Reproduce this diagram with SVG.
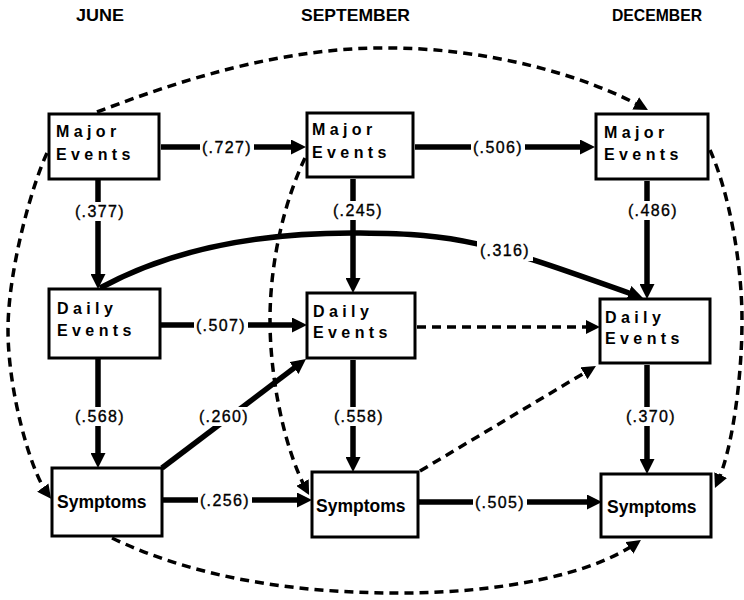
<svg xmlns="http://www.w3.org/2000/svg" width="744" height="600" viewBox="0 0 744 600">
<style>
.box{fill:#fff;stroke:#000;stroke-width:3}
.nt{font-family:"Liberation Sans",Arial,sans-serif;font-weight:bold;font-size:16px;letter-spacing:4.4px;fill:#000}
.st{font-family:"Liberation Sans",Arial,sans-serif;font-weight:bold;font-size:17.5px;fill:#000}
.title{font-family:"Liberation Sans",Arial,sans-serif;font-weight:bold;font-size:16.5px;fill:#000}
.solid{fill:none;stroke:#000;stroke-width:5.5;marker-end:url(#ah)}
.dash{fill:none;stroke:#000;stroke-width:3.5;stroke-dasharray:9 6;marker-end:url(#ahd)}
.lbl{font-family:"Liberation Sans",Arial,sans-serif;font-size:16px;letter-spacing:1.4px;fill:#000;stroke:#000;stroke-width:0.35;text-anchor:middle}
.bg{fill:#fff}
</style>
<defs>
<marker id="ah" viewBox="0 0 15 15" markerWidth="15" markerHeight="15" refX="9" refY="7.5" orient="auto" markerUnits="userSpaceOnUse"><path d="M0,0 L15,7.5 L0,15 z" fill="#000"/></marker>
<marker id="ahd" viewBox="0 0 14 14" markerWidth="14" markerHeight="14" refX="8" refY="7" orient="auto" markerUnits="userSpaceOnUse"><path d="M0,0 L14,7 L0,14 z" fill="#000"/></marker>
</defs>
<rect width="744" height="600" fill="#fff"/>
<g id="titles">
<text class="title" x="76" y="21" textLength="48" lengthAdjust="spacingAndGlyphs">JUNE</text>
<text class="title" x="301" y="21" textLength="109" lengthAdjust="spacingAndGlyphs">SEPTEMBER</text>
<text class="title" x="612" y="21" textLength="90" lengthAdjust="spacingAndGlyphs">DECEMBER</text>
</g>
<g id="connectors">
<path class="solid" d="M161 147 L300 147"/>
<path class="solid" d="M415 147 L589 147"/>
<path class="solid" d="M98 180 L98 283"/>
<path class="solid" d="M353 179 L353 287"/>
<path class="solid" d="M647 181 L647 293"/>
<path class="solid" d="M161 325 L301 325"/>
<path class="solid" d="M98 359 L98 462"/>
<path class="solid" d="M353 360 L353 466"/>
<path class="solid" d="M647 365 L647 468"/>
<path class="solid" d="M162 468 L301.2 362.6"/>
<path class="solid" d="M163 500 L306 500"/>
<path class="solid" d="M418 502 L596 502"/>
<path class="solid" d="M100 288 C170 250 260 232 360 233 S480 240 637.3 296"/>
<path class="dash" d="M417 327 L594 327"/>
<path class="dash" d="M420 471 L590.8 369.1"/>
<path class="dash" d="M97 112 C150 92 260 50 375 48 S590 78 642.7 107.2"/>
<path class="dash" d="M47 153 C32 185 8 270 8 330 S30 470 47.5 494"/>
<path class="dash" d="M305 158 C285 200 270 260 270 320 S285 450 306.3 489.7"/>
<path class="dash" d="M710 150 C728 190 742 260 742 320 S732 450 717.4 482.5"/>
<path class="dash" d="M112 538 C200 580 300 593 400 593 S590 575 636 543.4"/>
<rect class="bg" x="200" y="138" width="54" height="19"/><text class="lbl" x="227" y="153">(.727)</text>
<rect class="bg" x="471" y="138" width="54" height="19"/><text class="lbl" x="498" y="153">(.506)</text>
<rect class="bg" x="73" y="202" width="54" height="19"/><text class="lbl" x="100" y="217">(.377)</text>
<rect class="bg" x="331" y="201" width="54" height="19"/><text class="lbl" x="358" y="216">(.245)</text>
<rect class="bg" x="626" y="201" width="54" height="19"/><text class="lbl" x="653" y="216">(.486)</text>
<rect class="bg" x="477" y="241" width="56" height="20"/><text class="lbl" x="505" y="256">(.316)</text>
<rect class="bg" x="194" y="316" width="54" height="19"/><text class="lbl" x="221" y="331">(.507)</text>
<rect class="bg" x="73" y="407" width="54" height="19"/><text class="lbl" x="100" y="422">(.568)</text>
<rect class="bg" x="197" y="407" width="54" height="19"/><text class="lbl" x="224" y="422">(.260)</text>
<rect class="bg" x="332" y="407" width="54" height="19"/><text class="lbl" x="359" y="422">(.558)</text>
<rect class="bg" x="624" y="407" width="54" height="19"/><text class="lbl" x="651" y="422">(.370)</text>
<rect class="bg" x="198" y="491" width="54" height="19"/><text class="lbl" x="225" y="506">(.256)</text>
<rect class="bg" x="473" y="493" width="54" height="19"/><text class="lbl" x="500" y="508">(.505)</text>
</g>
<g id="june-major"><rect class="box" x="49" y="114" width="110" height="65"/><text class="nt" x="56" y="137">Major</text><text class="nt" x="56" y="160">Events</text></g>
<g id="sep-major"><rect class="box" x="307" y="113" width="106" height="64"/><text class="nt" x="312" y="135">Major</text><text class="nt" x="312" y="158">Events</text></g>
<g id="dec-major"><rect class="box" x="596" y="114" width="112" height="65"/><text class="nt" x="604" y="138">Major</text><text class="nt" x="604" y="160">Events</text></g>
<g id="june-daily"><rect class="box" x="49" y="289" width="111" height="69"/><text class="nt" x="57" y="314">Daily</text><text class="nt" x="57" y="336">Events</text></g>
<g id="sep-daily"><rect class="box" x="307" y="293" width="108" height="65"/><text class="nt" x="313" y="317">Daily</text><text class="nt" x="313" y="338">Events</text></g>
<g id="dec-daily"><rect class="box" x="600" y="299" width="110" height="64"/><text class="nt" x="605" y="323">Daily</text><text class="nt" x="605" y="344">Events</text></g>
<g id="june-symptoms"><rect class="box" x="52" y="468" width="110" height="68"/><text class="st" x="57" y="508">Symptoms</text></g>
<g id="sep-symptoms"><rect class="box" x="312" y="472" width="106" height="65"/><text class="st" x="316" y="512">Symptoms</text></g>
<g id="dec-symptoms"><rect class="box" x="601" y="474" width="110" height="63"/><text class="st" x="607" y="513">Symptoms</text></g>
</svg>
